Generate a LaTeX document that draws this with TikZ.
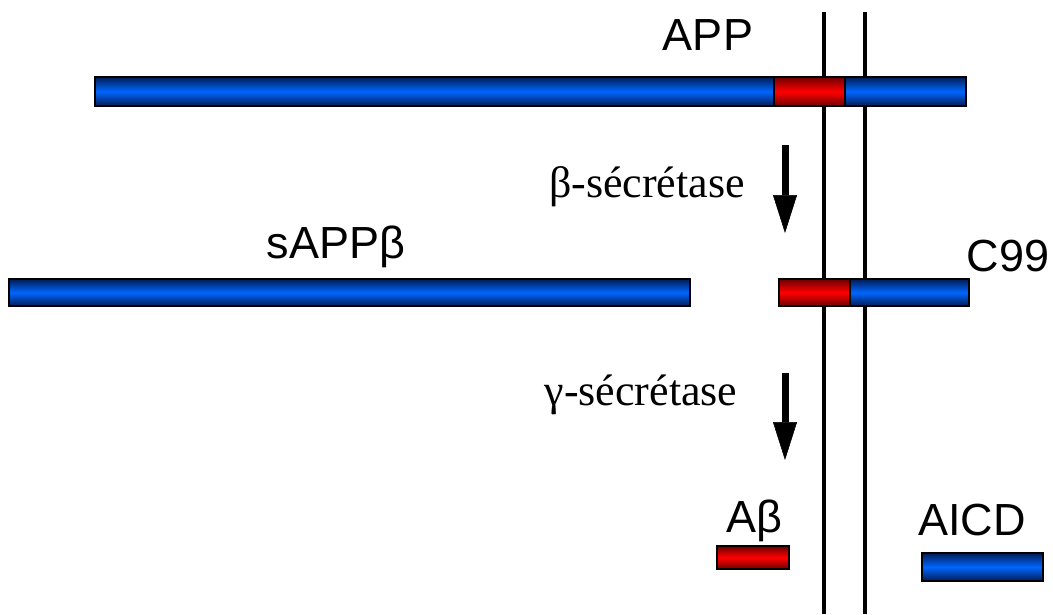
\documentclass[tikz,border=0pt]{standalone}
\usepackage{fontspec}
\setmainfont{Liberation Sans}
\newfontfamily\enzfont{Liberation Serif}
\usetikzlibrary{arrows.meta}

\definecolor{bluelight}{RGB}{0,102,255}
\definecolor{bluedark}{RGB}{0,28,85}
\definecolor{redlight}{RGB}{255,0,0}
\definecolor{reddark}{RGB}{110,0,0}

\tikzset{
  bar/.style={draw, line width=1.5pt, inner sep=0pt},
  bluebar/.style={bar, top color=bluedark, bottom color=bluedark, middle color=bluelight},
  redbar/.style={bar, top color=reddark, bottom color=reddark, middle color=redlight},
  lbl/.style={anchor=base, inner sep=0pt, font=\fontsize{45}{50}\selectfont},
  enzlbl/.style={anchor=base, inner sep=0pt, font=\enzfont\fontsize{44}{48}\selectfont},
  cleave/.style={line width=7pt, -{Triangle[length=38pt, width=24pt, line width=0.5pt]}},
}

\begin{document}
\begin{tikzpicture}[x=1pt, y=-1pt]
  \useasboundingbox (0,0) rectangle (1053,614);
  % membrane
  \foreach \xpos [count=\i] in {824,865} {
    \coordinate (mtop\i) at (\xpos,12);
    \coordinate (mbot\i) at (\xpos,614);
    \draw[line width=4pt] (mtop\i) -- (mbot\i);
  }
  % APP
  \node[bluebar, minimum width=871pt, minimum height=29pt] (app) at (530.5,91.5) {};
  \node[redbar, minimum width=71pt, minimum height=29pt] (appab) at (809.5,91.5) {};
  \node[lbl] (applbl) at (708,50) {APP};
  % beta cleavage
  \coordinate (betatop) at (785,145);
  \coordinate (betatip) at (785,233);
  \draw[cleave] (betatop) -- (betatip);
  \node[enzlbl] (betalbl) at (647,197) {β-sécrétase};
  % sAPPbeta and C99
  \node[bluebar, minimum width=681pt, minimum height=27pt] (sapp) at (349.5,292.5) {};
  \node[lbl] (sapplbl) at (336,258) {sAPPβ};
  \node[redbar, minimum width=71pt, minimum height=27pt] (c99ab) at (814.5,292.5) {};
  \node[bluebar, minimum width=119pt, minimum height=27pt] (c99ct) at (909.5,292.5) {};
  \node[lbl] (c99lbl) at (1008,271) {C99};
  % gamma cleavage
  \coordinate (gammatop) at (785,373);
  \coordinate (gammatip) at (785,460);
  \draw[cleave] (gammatop) -- (gammatip);
  \node[enzlbl] (gammalbl) at (641,405) {γ-sécrétase};
  % products
  \node[redbar, minimum width=72pt, minimum height=23pt] (abeta) at (753,557.5) {};
  \node[lbl] (abetalbl) at (754,532) {Aβ};
  \node[bluebar, minimum width=121pt, minimum height=28pt] (aicd) at (982.5,567) {};
  \node[lbl] (aicdlbl) at (972,535) {AICD};
\end{tikzpicture}
\end{document}
